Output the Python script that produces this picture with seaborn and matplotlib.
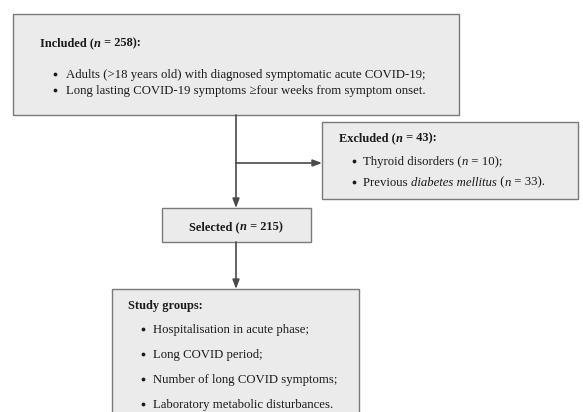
import matplotlib
matplotlib.use("Agg")
import matplotlib.pyplot as plt
import seaborn as sns
from matplotlib.patches import Rectangle
from matplotlib.font_manager import FontProperties, findfont, get_font

sns.set_theme(style="white")
plt.rcParams["font.family"] = ["Liberation Serif", "DejaVu Serif"]

# ---- content: each line is a list of (text, style) runs ----
included_title = [("Included (", "b"), ("n", "bi"), (" = 258):", "b")]
included_items = [
    [("Adults (>18 years old) with diagnosed symptomatic acute COVID-19;", "r")],
    [("Long lasting COVID-19 symptoms \u2265four weeks from symptom onset.", "r")],
]
excluded_title = [("Excluded (", "b"), ("n", "bi"), (" = 43):", "b")]
excluded_items = [
    [("Thyroid disorders (", "r"), ("n", "i"), (" = 10);", "r")],
    [("Previous ", "r"), ("diabetes mellitus", "i"), (" (", "r"), ("n", "i"), (" = 33).", "r")],
]
selected_title = [("Selected (", "b"), ("n", "bi"), (" = 215)", "b")]
groups_title = [("Study groups:", "b")]
groups_items = [
    [("Hospitalisation in acute phase;", "r")],
    [("Long COVID period;", "r")],
    [("Number of long COVID symptoms;", "r")],
    [("Laboratory metabolic disturbances.", "r")],
]

FILL = "#ebebeb"
EDGE = "#7a7a7a"
LINE = "#4a4a4a"
TXT = "#1a1a1a"
FS = 9.2
FSH = 8.9
DPI = 100

fig = plt.figure(figsize=(5.83, 4.12), dpi=DPI)
ax = fig.add_axes([0, 0, 1, 1])
ax.set_xlim(0, 583)
ax.set_ylim(412, 0)
ax.axis("off")

STYLES = {
    "r": dict(weight="normal", style="normal"),
    "i": dict(weight="normal", style="italic"),
    "b": dict(weight="bold", style="normal"),
    "bi": dict(weight="bold", style="italic"),
}

try:
    from matplotlib.ft2font import Kerning
    KMODE = Kerning.DEFAULT
except Exception:  # older matplotlib
    KMODE = 0


def advance(s, fs, st):
    fp = FontProperties(family=["Liberation Serif"], size=fs, **STYLES[st])
    font = get_font(findfont(fp))
    font.clear()
    font.set_size(fs, DPI)
    total = 0.0
    prev = None
    for c in s:
        idx = font.get_char_index(ord(c))
        if prev is not None:
            try:
                total += font.get_kerning(prev, idx, KMODE) / 64.0
            except Exception:
                pass
        g = font.load_char(ord(c))
        total += g.linearHoriAdvance / 65536.0
        prev = idx
    return total


def runs_width(runs, fs):
    return sum(advance(s, fs, st) for s, st in runs)


def draw_runs(x, y, runs, fs, ha="left"):
    if ha == "center":
        x = x - runs_width(runs, fs) / 2
    for s, st in runs:
        if s.strip():
            ax.text(x, y, s, fontsize=fs, color=TXT, ha="left",
                    va="baseline", zorder=3,
                    fontweight=STYLES[st]["weight"],
                    fontstyle=STYLES[st]["style"])
        x += advance(s, fs, st)


def box(x0, y0, x1, y1):
    ax.add_patch(Rectangle((x0, y0), x1 - x0, y1 - y0, facecolor=FILL,
                           edgecolor=EDGE, linewidth=1.0, zorder=1))


def bullets(xb, xt, ys, items):
    for y, runs in zip(ys, items):
        ax.scatter([xb], [y - 3.6], s=7.5, color=TXT, zorder=3, linewidths=0)
        draw_runs(xt, y, runs, FS)


def arrow(x0, y0, x1, y1):
    ax.annotate("", xy=(x1, y1), xytext=(x0, y0),
                arrowprops=dict(arrowstyle="-|>,head_length=0.45,head_width=0.17",
                                color=LINE, lw=1.2, shrinkA=0, shrinkB=0),
                zorder=2)


# Included box (y values below are text baselines)
box(13, 14, 459, 115)
draw_runs(40, 46.5, included_title, FSH)
bullets(54.5, 66, [77.5, 94], included_items)

# Excluded box
box(322, 122, 578, 199)
draw_runs(339, 141.5, excluded_title, FSH)
bullets(353.5, 363, [165, 185.5], excluded_items)

# Selected box
box(162, 208, 311, 242)
draw_runs(236, 230, selected_title, FSH, ha="center")

# Study groups box
box(112, 289, 359, 415)
draw_runs(128, 309.5, groups_title, FSH)
bullets(142.5, 153, [333, 358, 383, 408], groups_items)

# connectors
ax.plot([236, 236], [115, 163], color=LINE, lw=1.2, zorder=2)
arrow(236, 163, 236, 208)
arrow(236, 163, 322, 163)
arrow(236, 242, 236, 289)

fig.savefig("out.png", dpi=DPI)
